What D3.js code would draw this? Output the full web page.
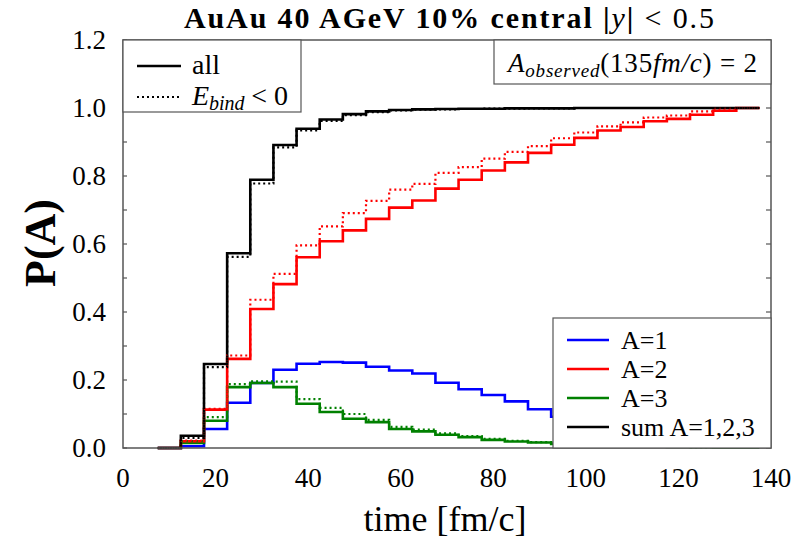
<!DOCTYPE html>
<html><head><meta charset="utf-8">
<script src="https://cdn.jsdelivr.net/npm/d3@7"></script>
<style>body{margin:0;background:#fff} svg{display:block} text{font-family:"Liberation Serif","Times New Roman",serif;}</style>
</head><body><svg id="c" width="795" height="540"></svg>
<script>
// bin centres (fm/c), bin width 5
const times = [10,15,20,25,30,35,40,45,50,55,60,65,70,75,80,85,90,95,100,105,110,115,120,125,130,135];
const binWidth = 5;
const a1All  = [0,0.005,0.056,0.133,0.191,0.230,0.248,0.253,0.251,0.239,0.228,0.219,0.192,0.173,0.156,0.137,0.114,0.092,0.075,0.060,0.046,0.035,0.025,0.016,0.010,0.005];
const a2All  = [0,0.020,0.113,0.262,0.409,0.482,0.561,0.608,0.640,0.674,0.707,0.728,0.763,0.789,0.816,0.840,0.868,0.892,0.912,0.934,0.944,0.961,0.968,0.980,0.992,1.000];
const a2Bind = [0,0.022,0.115,0.272,0.436,0.512,0.596,0.652,0.691,0.727,0.760,0.777,0.809,0.826,0.851,0.871,0.888,0.911,0.928,0.946,0.958,0.972,0.978,0.990,0.998,1.000];
const a3All  = [0,0.015,0.080,0.179,0.191,0.179,0.130,0.106,0.086,0.076,0.056,0.049,0.039,0.032,0.024,0.019,0.016,0.012,0.009,0.007,0.005,0.004,0.003,0.002,0.001,0.001];
const a3Bind = [0,0.020,0.091,0.188,0.196,0.195,0.144,0.118,0.100,0.083,0.062,0.054,0.043,0.035,0.027,0.021,0.017,0.013,0.010,0.008,0.006,0.004,0.003,0.002,0.001,0.001];
const sumAll = [0,0.036,0.247,0.573,0.789,0.891,0.939,0.966,0.982,0.990,0.994,0.996,0.997,0.998,0.998,0.999,0.999,0.999,1,1,1,1,1,1,1,1];
const sumBind= [0,0.030,0.238,0.562,0.778,0.884,0.934,0.962,0.979,0.988,0.993,0.995,0.996,0.997,0.998,0.998,0.999,0.999,1,1,1,1,1,1,1,1];
const xTicks = [0,20,40,60,80,100,120,140];
const yTicks = [0,0.2,0.4,0.6,0.8,1.0,1.2];
const yMinor = [0.1,0.3,0.5,0.7,0.9,1.1];

const svg = d3.select("#c");
const L=123, R=771, T=40, B=448;
const x = d3.scaleLinear().domain([0,140]).range([L,R]);
const y = d3.scaleLinear().domain([0,1.2]).range([B,T]);

// title
const tt = svg.append("text").attr("x",449).attr("y",28).attr("text-anchor","middle")
  .attr("font-size",30).attr("font-weight","bold")
  .attr("textLength",530).attr("lengthAdjust","spacing");
tt.append("tspan").text("AuAu 40 AGeV 10% central |");
tt.append("tspan").attr("font-style","italic").attr("font-weight","normal").text("y");
tt.append("tspan").text("|");
tt.append("tspan").attr("font-weight","normal").text(" < 0.5");

const g = svg.append("g");
const line = d3.line().x(d=>x(d[0])).y(d=>y(d[1])).curve(d3.curveStepAfter);
function pts(vals){
  const p = times.map((t,i)=>[t-binWidth/2, vals[i]]);
  p.push([times[times.length-1]+binWidth/2, vals[vals.length-1]]);
  return p;
}
const series = [
  {v:a1All, c:"#0000ff", dash:null},
  {v:a3All, c:"#008000", dash:null},
  {v:a2All, c:"#ff0000", dash:null},
  {v:sumAll, c:"#000000", dash:null},
  {v:a3Bind, c:"#008000", dash:"2,3"},
  {v:a2Bind, c:"#ff0000", dash:"2,3"},
  {v:sumBind, c:"#000000", dash:"2,3"},
];
series.forEach(s=>{
  g.append("path").attr("d",line(pts(s.v))).attr("fill","none")
   .attr("stroke",s.c).attr("stroke-width",s.dash?2.2:2.6)
   .attr("stroke-dasharray",s.dash);
});

// frame
svg.append("rect").attr("x",L).attr("y",T).attr("width",R-L).attr("height",B-T)
  .attr("fill","none").attr("stroke","#555").attr("stroke-width",1.5);

// y ticks
const yt = svg.append("g");
[...yTicks,...yMinor].forEach(v=>{
  yt.append("line").attr("x1",L).attr("x2",L+4).attr("y1",y(v)).attr("y2",y(v)).attr("stroke","#555").attr("stroke-width",1.2);
  yt.append("line").attr("x1",R).attr("x2",R-5).attr("y1",y(v)).attr("y2",y(v)).attr("stroke","#555").attr("stroke-width",1.2);
});
yTicks.forEach(v=>{
  yt.append("text").attr("x",106).attr("y",y(v)+9).attr("text-anchor","end")
    .attr("font-size",27).text(d3.format(".1f")(v));
});
xTicks.forEach(v=>{
  svg.append("text").attr("x",x(v)).attr("y",487).attr("text-anchor","middle")
    .attr("font-size",27).text(v);
});

// axis labels
svg.append("text").attr("x",445).attr("y",531).attr("text-anchor","middle")
  .attr("font-size",36).text("time [fm/c]");
svg.append("text").attr("transform","translate(55,243) rotate(-90)").attr("text-anchor","middle")
  .attr("font-size",44).attr("font-weight","bold").text("P(A)");

// legend top-left
const l1 = svg.append("g");
l1.append("rect").attr("x",L).attr("y",T).attr("width",301-L).attr("height",112-T)
  .attr("fill","#fff").attr("stroke","#555").attr("stroke-width",1.2);
l1.append("line").attr("x1",137).attr("x2",181).attr("y1",66).attr("y2",66).attr("stroke","#000").attr("stroke-width",2.6);
l1.append("line").attr("x1",137).attr("x2",181).attr("y1",97).attr("y2",97).attr("stroke","#000").attr("stroke-width",2.2).attr("stroke-dasharray","2,3");
l1.append("text").attr("x",192).attr("y",74).attr("font-size",28).text("all");
const eb = l1.append("text").attr("x",192).attr("y",105).attr("font-size",28)
  .attr("textLength",96).attr("lengthAdjust","spacing");
eb.append("tspan").attr("font-style","italic").text("E");
eb.append("tspan").attr("font-style","italic").attr("font-size",20).attr("dy",5).text("bind");
eb.append("tspan").attr("dy",-5).text(" < 0");

// legend top-right
const l2 = svg.append("g");
l2.append("rect").attr("x",494).attr("y",T).attr("width",R-494).attr("height",84-T)
  .attr("fill","#fff").attr("stroke","#555").attr("stroke-width",1.2);
const ao = l2.append("text").attr("x",508).attr("y",72).attr("font-size",27)
  .attr("textLength",249).attr("lengthAdjust","spacing");
ao.append("tspan").attr("font-style","italic").text("A");
ao.append("tspan").attr("font-style","italic").attr("font-size",19).attr("dy",5).text("observed");
ao.append("tspan").attr("dy",-5).text("(135");
ao.append("tspan").attr("font-style","italic").text("fm/c");
ao.append("tspan").text(") = 2");

// legend bottom-right
const l3 = svg.append("g");
l3.append("rect").attr("x",553).attr("y",318).attr("width",R-553).attr("height",B-318)
  .attr("fill","#fff").attr("stroke","#555").attr("stroke-width",1.2);
const legItems = [["A=1","#0000ff"],["A=2","#ff0000"],["A=3","#008000"],["sum A=1,2,3","#000000"]];
legItems.forEach((d,i)=>{
  const yy = 340 + i*29;
  l3.append("line").attr("x1",567).attr("x2",609).attr("y1",yy).attr("y2",yy).attr("stroke",d[1]).attr("stroke-width",2.6);
  l3.append("text").attr("x",621).attr("y",yy+9).attr("font-size",26).text(d[0]);
});
</script></body></html>
